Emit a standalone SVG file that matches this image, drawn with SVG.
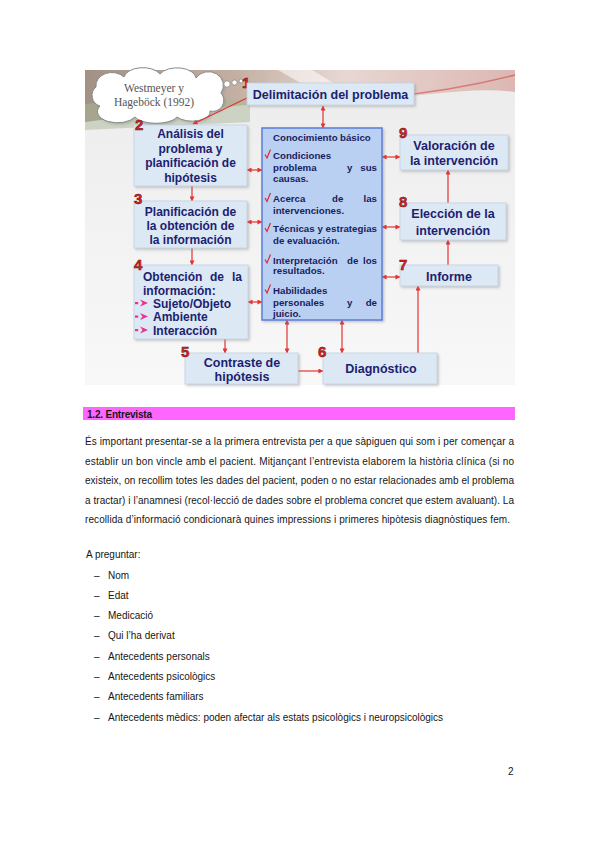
<svg xmlns="http://www.w3.org/2000/svg" width="599" height="848" viewBox="0 0 599 848">
<style>
.box{fill:#dce8f4;stroke:#c3d3e4;stroke-width:0.8;filter:url(#sh)}
.bt{font-family:"Liberation Sans",Arial,sans-serif;font-weight:bold;fill:#1c2170;text-anchor:middle}
.bt.st{text-anchor:start}
.bt.en{text-anchor:end}
.b12{font-size:12px}
.b125{font-size:12.5px}
.ct{font-family:"Liberation Sans",Arial,sans-serif;font-weight:bold;font-size:9.7px;fill:#1a1d5e}
.ct.en{text-anchor:end}
.num{font-family:"Liberation Sans",Arial,sans-serif;font-weight:bold;font-size:15px;fill:#e0221c;stroke:#6a1010;stroke-width:0.5}
.ck{fill:none;stroke:#e02a2a;stroke-width:1.2}
.cn{fill:none;stroke:#e53232;stroke-width:1.2}
.bl{fill:#f0308a}
.tx{font-family:"Liberation Sans",Arial,sans-serif;font-size:10px;fill:#161616}
</style>
<defs>
<filter id="sh" x="-10%" y="-10%" width="130%" height="140%">
<feDropShadow dx="1.5" dy="1.5" stdDeviation="1.2" flood-color="#888" flood-opacity="0.45"/>
</filter>
<linearGradient id="bg" x1="0" y1="0" x2="0" y2="1">
<stop offset="0" stop-color="#ececec"/>
<stop offset="1" stop-color="#f8f8f8"/>
</linearGradient>
<linearGradient id="sw" x1="0" y1="0" x2="1" y2="0">
<stop offset="0" stop-color="#8f7a6a"/>
<stop offset="0.35" stop-color="#b9a090"/>
<stop offset="0.6" stop-color="#e6d2cc"/>
<stop offset="1" stop-color="#d9aaa4"/>
</linearGradient>
<marker id="ah" viewBox="0 0 6 6" refX="5.5" refY="3" markerWidth="5" markerHeight="5" markerUnits="userSpaceOnUse" orient="auto-start-reverse">
<path d="M0,0 L6,3 L0,6 z" fill="#e53232"/>
</marker>
</defs>

<g id="background">
<rect x="85" y="70" width="430" height="315" fill="url(#bg)"/>
<path d="M85,70 H515 V92 C470,86 420,98 360,99 C300,100 240,104 85,122 Z" fill="url(#sw)" opacity="0.8"/>
<path d="M85,104 C140,98 200,96 250,100 L250,122 L85,130 Z" fill="#a9b798" opacity="0.5"/>
<path d="M278,70 L312,70 L360,99 L330,100 Z" fill="#ffffff" opacity="0.55"/>
<path d="M385,97 C430,93 480,84 515,75" fill="none" stroke="#cf4b4b" stroke-width="1.5" opacity="0.6"/>
</g>

<g id="cloud">
<path d="M100,106 A11,11 0 0 1 96,87 A16,13 0 0 1 124,77 A19,11 0 0 1 160,74 A19,11 0 0 1 196,78 A14,13 0 0 1 221,93 A11,11 0 0 1 210,111 A18,9 0 0 1 177,117 A22,9 0 0 1 135,117 A16,9 0 0 1 100,106 Z" fill="#ffffff" stroke="#8a8a8a" stroke-width="1" filter="url(#sh)"/>
<circle cx="227" cy="84" r="3.2" fill="#fff" stroke="#8a8a8a" stroke-width="0.8"/>
<circle cx="234.5" cy="82.5" r="2.6" fill="#fff" stroke="#8a8a8a" stroke-width="0.8"/>
<circle cx="241" cy="81" r="2" fill="#fff" stroke="#8a8a8a" stroke-width="0.8"/>
<text x="154" y="92" font-family="'Liberation Serif','Times New Roman',serif" font-size="11.5" fill="#555" text-anchor="middle">Westmeyer y</text>
<text x="154" y="105.5" font-family="'Liberation Serif','Times New Roman',serif" font-size="11.5" fill="#555" text-anchor="middle">Hageböck (1992)</text>
</g>

<g id="connectors">
<line class="cn" x1="323" y1="106" x2="323" y2="128" marker-start="url(#ah)" marker-end="url(#ah)"/>
<line class="cn" x1="247" y1="98" x2="193" y2="124" marker-end="url(#ah)"/>
<line class="cn" x1="192" y1="186" x2="192" y2="201" marker-end="url(#ah)"/>
<line class="cn" x1="192" y1="248" x2="192" y2="265" marker-end="url(#ah)"/>
<line class="cn" x1="225" y1="339" x2="225" y2="353" marker-end="url(#ah)"/>
<line class="cn" x1="298" y1="371" x2="323" y2="371" marker-end="url(#ah)"/>
<line class="cn" x1="418" y1="353" x2="418" y2="286" marker-end="url(#ah)"/>
<line class="cn" x1="448" y1="265" x2="448" y2="240" marker-end="url(#ah)"/>
<line class="cn" x1="448" y1="203" x2="448" y2="170" marker-end="url(#ah)"/>
<line class="cn" x1="247" y1="170" x2="262" y2="170" marker-start="url(#ah)" marker-end="url(#ah)"/>
<line class="cn" x1="247" y1="222" x2="262" y2="222" marker-start="url(#ah)" marker-end="url(#ah)"/>
<line class="cn" x1="248" y1="302" x2="262" y2="302" marker-start="url(#ah)" marker-end="url(#ah)"/>
<line class="cn" x1="382" y1="157" x2="400" y2="157" marker-start="url(#ah)" marker-end="url(#ah)"/>
<line class="cn" x1="382" y1="227" x2="400" y2="227" marker-start="url(#ah)" marker-end="url(#ah)"/>
<line class="cn" x1="382" y1="277" x2="400" y2="277" marker-start="url(#ah)" marker-end="url(#ah)"/>
<line class="cn" x1="287" y1="320" x2="287" y2="353" marker-start="url(#ah)" marker-end="url(#ah)"/>
<line class="cn" x1="342" y1="320" x2="342" y2="353" marker-start="url(#ah)" marker-end="url(#ah)"/>
</g>

<g id="n1">
<text class="num" x="242" y="88">1</text>
<rect class="box" x="247" y="83" width="167" height="22"/>
<text class="bt b125" x="330.5" y="99">Delimitación del problema</text>
</g>

<g id="n2">
<rect class="box" x="134" y="125" width="113" height="61"/>
<text class="num" x="135" y="130">2</text>
<text class="bt b12" x="190.5" y="137.5">Análisis del</text>
<text class="bt b12" x="190.5" y="152.5">problema y</text>
<text class="bt b12" x="190.5" y="167">planificación de</text>
<text class="bt b12" x="190.5" y="181.5">hipótesis</text>
</g>

<g id="n3">
<rect class="box" x="134" y="201" width="113" height="47"/>
<text class="num" x="134" y="204">3</text>
<text class="bt b12" x="190.5" y="215.5">Planificación de</text>
<text class="bt b12" x="190.5" y="229.5">la obtención de</text>
<text class="bt b12" x="190.5" y="243.5">la información</text>
</g>

<g id="n4">
<rect class="box" x="134" y="265" width="114" height="74"/>
<text class="num" x="134" y="269.5">4</text>
<text class="bt b12 st" x="143" y="281">Obtención</text>
<text class="bt b12 st" x="210" y="281">de</text>
<text class="bt b12 en" x="242" y="281">la</text>
<text class="bt b12 st" x="143" y="294.5">información:</text>
<rect class="bl" x="135" y="302" width="3.2" height="2.2"/>
<path class="bl" d="M140,299.5 L148,303 L140,306.5 L142.5,303 Z"/>
<text class="bt b12 st" x="153" y="307.5">Sujeto/Objeto</text>
<rect class="bl" x="135" y="315.5" width="3.2" height="2.2"/>
<path class="bl" d="M140,313 L148,316.5 L140,320 L142.5,316.5 Z"/>
<text class="bt b12 st" x="153" y="321">Ambiente</text>
<rect class="bl" x="135" y="329" width="3.2" height="2.2"/>
<path class="bl" d="M140,326.5 L148,330 L140,333.5 L142.5,330 Z"/>
<text class="bt b12 st" x="153" y="334.5">Interacción</text>
</g>

<g id="n5">
<rect class="box" x="185" y="353" width="113" height="31"/>
<text class="num" x="181" y="357">5</text>
<text class="bt b125" x="242" y="366.5">Contraste de</text>
<text class="bt b125" x="242" y="380.5">hipótesis</text>
</g>

<g id="n6">
<rect class="box" x="323" y="353" width="114" height="31"/>
<text class="num" x="318" y="357">6</text>
<text class="bt b125" x="381" y="372.5">Diagnóstico</text>
</g>

<g id="n7">
<rect class="box" x="400" y="265" width="98" height="21"/>
<text class="num" x="399" y="270">7</text>
<text class="bt b125" x="449" y="281">Informe</text>
</g>

<g id="n8">
<rect class="box" x="400" y="203" width="106" height="37"/>
<text class="num" x="399" y="207">8</text>
<text class="bt b125" x="453" y="217.5">Elección de la</text>
<text class="bt b125" x="453" y="234.5">intervención</text>
</g>

<g id="n9">
<rect class="box" x="400" y="135" width="108" height="35"/>
<text class="num" x="399" y="138">9</text>
<text class="bt b125" x="454" y="149.5">Valoración de</text>
<text class="bt b125" x="454" y="165">la intervención</text>
</g>

<g id="center">
<rect x="262" y="128" width="120" height="192" fill="#b9d0f2" stroke="#5a7ddc" stroke-width="1.5" filter="url(#sh)"/>
<text class="ct" x="273" y="140.5">Conocimiento</text>
<text class="ct" x="340" y="140.5">básico</text>
<path class="ck" d="M265,154.5 L267,158 L270.5,149.5"/>
<text class="ct" x="273" y="158.5">Condiciones</text>
<text class="ct" x="273" y="170.5">problema</text>
<text class="ct" x="347" y="170.5">y</text>
<text class="ct en" x="377" y="170.5">sus</text>
<text class="ct" x="273" y="182">causas.</text>
<path class="ck" d="M265,198 L267,201.5 L270.5,193"/>
<text class="ct" x="273" y="202">Acerca</text>
<text class="ct" x="332" y="202">de</text>
<text class="ct en" x="377" y="202">las</text>
<text class="ct" x="273" y="213.5">intervenciones.</text>
<path class="ck" d="M265,228 L267,231.5 L270.5,223"/>
<text class="ct" x="273" y="232" textLength="104" lengthAdjust="spacing">Técnicas y estrategias</text>
<text class="ct" x="273" y="243.5">de evaluación.</text>
<path class="ck" d="M265,259.5 L267,263 L270.5,254.5"/>
<text class="ct" x="273" y="263.5">Interpretación</text>
<text class="ct" x="347" y="263.5">de</text>
<text class="ct en" x="377" y="263.5">los</text>
<text class="ct" x="273" y="274">resultados.</text>
<path class="ck" d="M265,289.5 L267,293 L270.5,284.5"/>
<text class="ct" x="273" y="293.5">Habilidades</text>
<text class="ct" x="273" y="305.5">personales</text>
<text class="ct" x="347" y="305.5">y</text>
<text class="ct en" x="377" y="305.5">de</text>
<text class="ct" x="273" y="317">juicio.</text>
</g>

<g id="text-section">
<rect x="83" y="407" width="432" height="13" fill="#ff66ff"/>
<text class="tx" x="87" y="417.5" font-weight="bold" textLength="65" lengthAdjust="spacing">1.2. Entrevista</text>
<text class="tx" x="85" y="445" textLength="429" lengthAdjust="spacing">És important presentar-se a la primera entrevista per a que sàpiguen qui som i per començar a</text>
<text class="tx" x="85" y="464.5" textLength="429" lengthAdjust="spacing">establir un bon vincle amb el pacient. Mitjançant l’entrevista elaborem la història clínica (si no</text>
<text class="tx" x="85" y="484" textLength="429" lengthAdjust="spacing">existeix, on recollim totes les dades del pacient, poden o no estar relacionades amb el problema</text>
<text class="tx" x="85" y="503.5" textLength="429" lengthAdjust="spacing">a tractar) i l’anamnesi (recol·lecció de dades sobre el problema concret que estem avaluant). La</text>
<text class="tx" x="85" y="523" textLength="425" lengthAdjust="spacing">recollida d’informació condicionarà quines impressions i primeres hipòtesis diagnòstiques fem.</text>
<text class="tx" x="86" y="558">A preguntar:</text>
<text class="tx" x="94" y="578.5">–</text><text class="tx" x="108" y="578.5">Nom</text>
<text class="tx" x="94" y="598.8">–</text><text class="tx" x="108" y="598.8">Edat</text>
<text class="tx" x="94" y="619.1">–</text><text class="tx" x="108" y="619.1">Medicació</text>
<text class="tx" x="94" y="639.4">–</text><text class="tx" x="108" y="639.4">Qui l’ha derivat</text>
<text class="tx" x="94" y="659.7">–</text><text class="tx" x="108" y="659.7">Antecedents personals</text>
<text class="tx" x="94" y="680">–</text><text class="tx" x="108" y="680">Antecedents psicològics</text>
<text class="tx" x="94" y="700.3">–</text><text class="tx" x="108" y="700.3">Antecedents familiars</text>
<text class="tx" x="94" y="720.6">–</text><text class="tx" x="108" y="720.6" textLength="335" lengthAdjust="spacing">Antecedents mèdics: poden afectar als estats psicològics i neuropsicològics</text>
<text class="tx" x="508" y="775">2</text>
</g>
</svg>
